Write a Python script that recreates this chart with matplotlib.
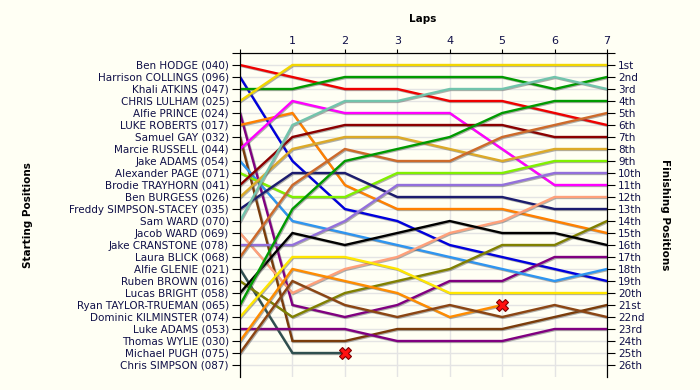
import matplotlib
matplotlib.use("Agg")
import matplotlib.pyplot as plt
import matplotlib.patheffects as pe

laps = [0, 1, 2, 3, 4, 5, 6, 7]

starting_names = [
    "Ben HODGE (040)", "Harrison COLLINGS (096)", "Khali ATKINS (047)",
    "CHRIS LULHAM (025)", "Alfie PRINCE (024)", "LUKE ROBERTS (017)",
    "Samuel GAY (032)", "Marcie RUSSELL (044)", "Jake ADAMS (054)",
    "Alexander PAGE (071)", "Brodie TRAYHORN (041)", "Ben BURGESS (026)",
    "Freddy SIMPSON-STACEY (035)", "Sam WARD (070)", "Jacob WARD (069)",
    "Jake CRANSTONE (078)", "Laura BLICK (068)", "Alfie GLENIE (021)",
    "Ruben BROWN (016)", "Lucas BRIGHT (058)", "Ryan TAYLOR-TRUEMAN (065)",
    "Dominic KILMINSTER (074)", "Luke ADAMS (053)", "Thomas WYLIE (030)",
    "Michael PUGH (075)", "Chris SIMPSON (087)",
]
finishing_labels = [
    "1st", "2nd", "3rd", "4th", "5th", "6th", "7th", "8th", "9th", "10th",
    "11th", "12th", "13th", "14th", "15th", "16th", "17th", "18th", "19th",
    "20th", "21st", "22nd", "23rd", "24th", "25th", "26th",
]

# position after each lap (lap 0 = grid)
hodge = [1, 2, 3, 3, 4, 4, 5, 6]
collings = [2, 9, 13, 14, 16, 17, 18, 19]
atkins = [3, 3, 2, 2, 2, 2, 3, 2]
lulham = [4, 1, 1, 1, 1, 1, 1, 1]
prince = [5, 21, 22, 21, 19, 19, 17, 17]
roberts = [6, 5, 11, 13, 13, 13, 14, 15]
gay = [7, 24, 24, 23, 23, 23, 22, 21]
russell = [8, 4, 5, 5, 5, 8, 11, 11]
jake_adams = [9, 14, 15, 16, 17, 18, 19, 18]
page = [10, 12, 12, 10, 10, 10, 9, 9]
trayhorn = [11, 7, 6, 6, 6, 6, 7, 7]
burgess = [12, 8, 7, 7, 8, 9, 8, 8]
simpson_stacey = [13, 10, 10, 12, 12, 12, 13, 13]
sam_ward = [14, 6, 4, 4, 3, 3, 2, 3]
jacob_ward = [15, 20, 18, 17, 15, 14, 12, 12]
cranstone = [16, 16, 14, 11, 11, 11, 10, 10]
blick = [17, 11, 8, 9, 9, 7, 6, 5]
glenie = [18, 25, 25]
brown = [19, 22, 20, 19, 18, 16, 16, 14]
bright = [20, 15, 16, 15, 14, 15, 15, 16]
taylor_trueman = [21, 13, 9, 8, 7, 5, 4, 4]
kilminster = [22, 17, 17, 18, 20, 20, 20, 20]
luke_adams = [23, 23, 23, 24, 24, 24, 23, 23]
wylie = [24, 18, 19, 20, 22, 21]
pugh = [25, 19, 21, 22, 21, 22, 21, 22]

retired = [glenie, wylie]

runs = [
    (hodge, "#ee0000"), (collings, "#0000dd"), (atkins, "#009a00"),
    (lulham, "#f2d600"), (prince, "#800080"), (roberts, "#ff8000"),
    (gay, "#7a3c0a"), (russell, "#ff00ff"), (jake_adams, "#2e95f0"),
    (page, "#80f000"), (trayhorn, "#8b0000"), (burgess, "#dcaa28"),
    (simpson_stacey, "#1c1c6e"), (sam_ward, "#72c4ac"), (jacob_ward, "#ffa07a"),
    (cranstone, "#9370db"), (blick, "#cd6a2a"), (glenie, "#2f4f4f"),
    (brown, "#808000"), (bright, "#000000"), (taylor_trueman, "#009a00"),
    (kilminster, "#ffe600"), (luke_adams, "#800080"), (wylie, "#ff8c00"),
    (pugh, "#8b4513"),
]

text_col = "#101048"
bg = "#fffff4"

fig = plt.figure(figsize=(7, 3.9), dpi=100, facecolor=bg)
ax = fig.add_axes([240 / 700, 1 - 377 / 390, 367 / 700, 324 / 390])
ax.set_facecolor(bg)

shadow = [pe.SimpleLineShadow(offset=(0.7, -0.7), shadow_color="#606060", alpha=0.5),
          pe.Normal()]
for rows, col in runs:
    ax.plot(laps[:len(rows)], rows, color=col, lw=1.7, solid_joinstyle="miter",
            path_effects=shadow, zorder=3)

for rows in retired:
    ax.plot(len(rows) - 1, rows[-1], marker="X", ms=9, color="#ff1010",
            mec="#800000", mew=0.8, zorder=5)

ax.set_xlim(0, 7)
ax.set_ylim(27, 0)
ax.set_xticks(laps)
ax.set_xticklabels([""] + [str(l) for l in laps[1:]])
ax.xaxis.tick_top()
ax.tick_params(axis="x", length=3, pad=2, labelsize=8, colors="black", labelcolor=text_col)

ax.set_yticks(range(0, 27))
ax.set_yticklabels([""] + starting_names)
ax.tick_params(axis="y", length=6, pad=2, labelsize=7.5, labelcolor=text_col)
ax.grid(True, color="#e4e4e4", lw=1, zorder=0)
ax.set_axisbelow(True)

ax2 = ax.twinx()
ax2.set_ylim(27, 0)
ax2.set_yticks(range(0, 27))
ax2.set_yticklabels([""] + finishing_labels)
ax2.tick_params(axis="y", length=6, pad=2, labelsize=7.5, labelcolor=text_col)

for a in (ax, ax2):
    a.spines["bottom"].set_visible(False)

fig.text(423 / 700, 1 - 19 / 390, "Laps", ha="center", va="center",
         fontsize=7.5, fontweight="bold")
fig.text(28 / 700, 1 - 215 / 390, "Starting Positions", ha="center", va="center",
         rotation=90, fontsize=7.5, fontweight="bold")
fig.text(665 / 700, 1 - 215 / 390, "Finishing Positions", ha="center", va="center",
         rotation=270, fontsize=7.5, fontweight="bold")

fig.savefig("out.png", dpi=100, facecolor=bg)
